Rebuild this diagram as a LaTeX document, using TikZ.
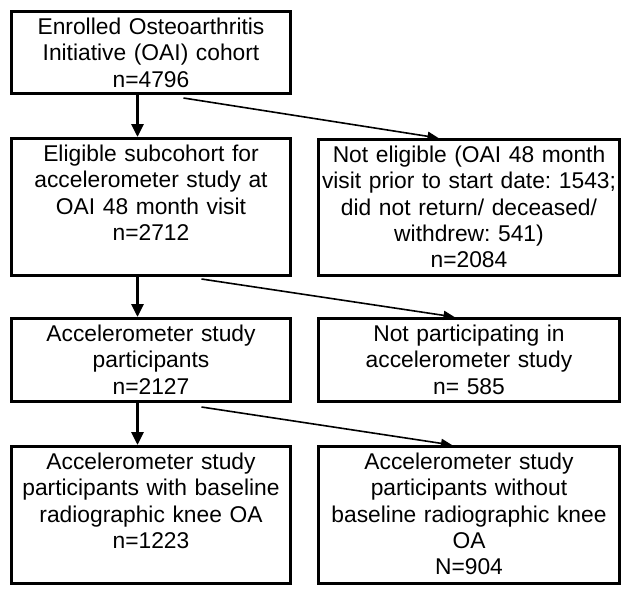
\documentclass[tikz,border=0pt]{standalone}
\usepackage{fontspec}
\setmainfont{Liberation Sans}
\usetikzlibrary{arrows.meta}

\tikzset{
  flowbox/.style={draw, line width=3pt, anchor=north west, align=center,
    inner xsep=1pt, inner ysep=6pt, text height=17pt,
    font=\fontsize{22.8}{26.3}\selectfont\frenchspacing},
  leftbox/.style={flowbox, text width=277pt},
  rightbox/.style={flowbox, text width=299pt},
  mainarrow/.style={line width=3pt, -{Triangle[width=12pt,length=13pt]}},
  sidearrow/.style={line width=1.6pt, -{Triangle[width=9pt,length=11pt]}}
}

\begin{document}
\begin{tikzpicture}[x=1pt, y=-1pt]
            \useasboundingbox (0,0) rectangle (628,594);
            % Row 1
            \node[leftbox, text depth=53pt]  (enrol) at ( 10, 10) {Enrolled Osteoarthritis\\Initiative (OAI) cohort\\n=4796};
            % Row 2
            \node[leftbox, text depth=108pt] (elig)  at ( 10,137) {Eligible subcohort for\\accelerometer study at\\OAI 48 month visit\\n=2712};
            \node[rightbox, text depth=107pt] (nelig) at (317,138) {Not eligible (OAI 48 month\\visit prior to start date: 1543;\\did not return/ deceased/\\withdrew: 541)\\n=2084};
            % Row 3
            \node[leftbox, text depth=54pt]  (part)  at ( 10,317) {Accelerometer study\\participants\\n=2127};
            \node[rightbox, text depth=54pt] (npart) at (317,317) {Not participating in\\accelerometer study\\n= 585};
            % Row 4
            \node[leftbox, text depth=108pt] (withoa) at ( 10,445) {Accelerometer study\\participants with baseline\\radiographic knee OA\\n=1223};
            \node[rightbox, text depth=108pt] (nooa)  at (317,445) {Accelerometer study\\participants without\\baseline radiographic knee\\OA\\N=904};
            % Main flow
            \draw[mainarrow] ([xshift=-13.5pt]enrol.south) -- ([xshift=-13.5pt]elig.north);
            \draw[mainarrow] ([xshift=-13.5pt]elig.south)  -- ([xshift=-13.5pt]part.north);
            \draw[mainarrow] ([xshift=-13.5pt]part.south)  -- ([xshift=-13.5pt]withoa.north);
            % Exclusions
            \draw[sidearrow] ([xshift=32.5pt,yshift=-3pt]enrol.south) -- ([xshift=-30.5pt]nelig.north);
            \draw[sidearrow] ([xshift=50.5pt,yshift=-2pt]elig.south)  -- ([xshift=-14.5pt]npart.north);
            \draw[sidearrow] ([xshift=50.5pt,yshift=-4pt]part.south)  -- ([xshift=-17pt]nooa.north);
        \end{tikzpicture}
\end{document}
